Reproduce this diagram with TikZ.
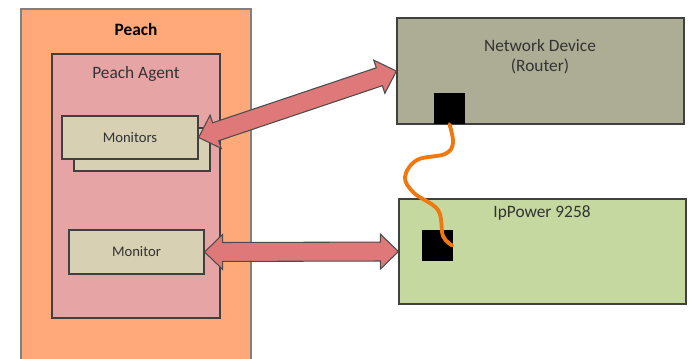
\documentclass[tikz,border=0pt]{standalone}
\usepackage{fontspec}
\setmainfont{Carlito}
\usetikzlibrary{calc}
\newdimen\px \px=0.75pt
\definecolor{peachbg}{HTML}{FFA97A}
\definecolor{agentbg}{HTML}{E6A4A5}
\definecolor{monbg}{HTML}{D7D0B3}
\definecolor{routerbg}{HTML}{ADAC95}
\definecolor{powerbg}{HTML}{C5D8A0}
\definecolor{arrowbg}{HTML}{DE7879}
\definecolor{cable}{HTML}{F07810}
\definecolor{txt}{HTML}{333333}
% double block arrow between two points
\newcommand{\dblarrow}[2]{%
  \draw[blockarrow] (#1) -- ($(#1)!13.5pt!(#2)!13.1pt!90:(#2)$) -- ($(#1)!13.5pt!(#2)!7.1pt!90:(#2)$)
    -- ($(#2)!13.5pt!(#1)!7.1pt!-90:(#1)$) -- ($(#2)!13.5pt!(#1)!13.1pt!-90:(#1)$) -- (#2)
    -- ($(#2)!13.5pt!(#1)!13.1pt!90:(#1)$) -- ($(#2)!13.5pt!(#1)!7.1pt!90:(#1)$)
    -- ($(#1)!13.5pt!(#2)!7.1pt!-90:(#2)$) -- ($(#1)!13.5pt!(#2)!13.1pt!-90:(#2)$) -- cycle;}
\begin{document}
\begin{tikzpicture}[x=\px,y=-\px,font=\fontsize{13}{15}\selectfont,text=txt]
    \tikzstyle{box}=[rectangle, draw=black!75, line width=0.9pt, inner sep=0pt]
    \tikzstyle{small}=[font=\fontsize{11}{13}\selectfont]
    \tikzstyle{port}=[rectangle, fill=black, inner sep=0pt, minimum size=31\px]
    \tikzstyle{blockarrow}=[fill=arrowbg, draw=black!70, line width=0.8pt, line join=miter]
    \clip (0,0) rectangle (694,358);
    % Peach side
    \node[box, draw=black!50, fill=peachbg, minimum width=230\px, minimum height=358\px] (peach) at (136,188) {};
    \node[font=\bfseries\fontsize{13}{15}\selectfont, text=black] (peachlbl) at (136,29) {Peach};
    \node[box, fill=agentbg, minimum width=168\px, minimum height=264\px] (agent) at (136,186) {};
    \node (agentlbl) at (136,74) {Peach Agent};
    \node[box, fill=monbg, minimum width=136\px, minimum height=43\px] (monsback) at (142,149.5) {};
    \node[box, fill=monbg, small, minimum width=136\px, minimum height=43\px] (mons) at (130,137.5) {Monitors};
    \node[box, fill=monbg, small, minimum width=135\px, minimum height=44\px] (mon) at (136.5,252) {Monitor};
    % devices
    \node[box, fill=routerbg, minimum width=287\px, minimum height=106\px] (router) at (540.5,71) {};
    \node[align=center] (routerlbl) at (540,57) {Network Device\\(Router)};
    \node[port] (port1) at (449.5,108.5) {};
    \node[box, fill=powerbg, minimum width=287\px, minimum height=105\px] (power) at (542.5,251.5) {};
    \node (powerlbl) at (542,213) {IpPower 9258};
    \node[port] (port2) at (437.5,245.5) {};
    % cable
    \draw[cable, line width=2.9pt, line cap=round] plot[smooth, tension=0.6] coordinates
      {(port1.south) (453,143) (445,154) (417,160) (405,177) (414,193) (438,210) (443,236) ($(port2.east)+(-1,0)$)};
    % arrows
    \dblarrow{mons.east}{router.west}
    \dblarrow{mon.east}{power.west}
  \end{tikzpicture}
\end{document}
